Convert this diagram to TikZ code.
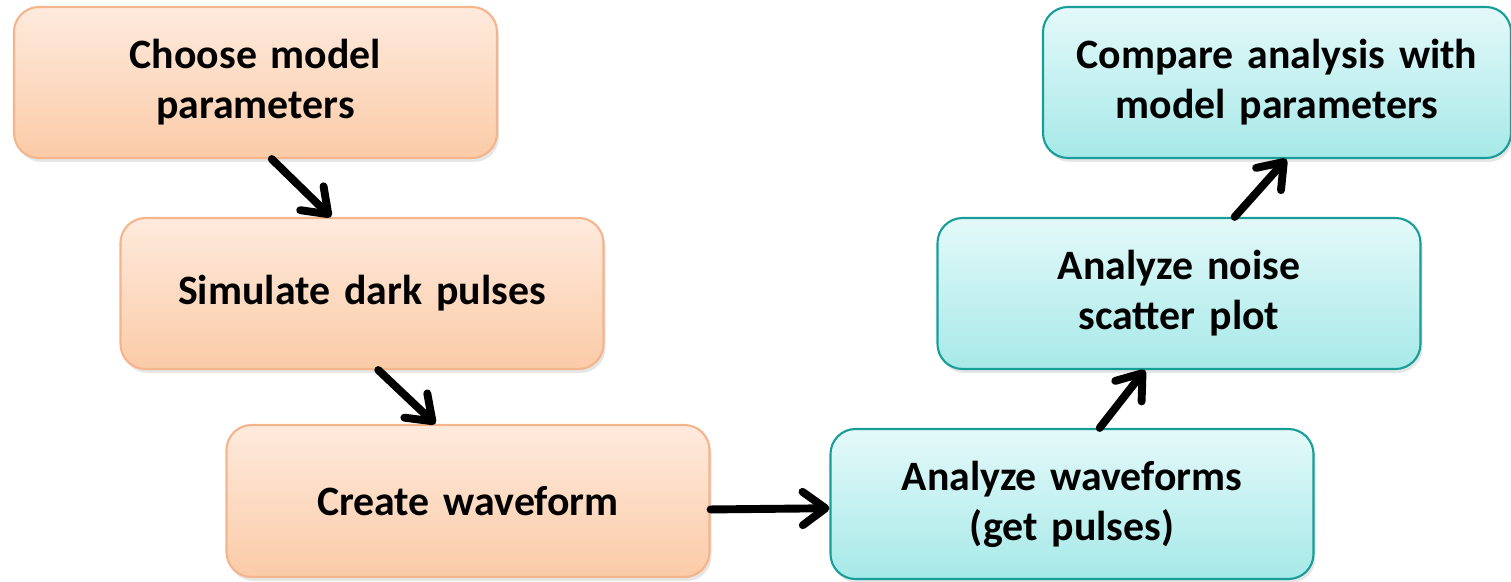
\documentclass[tikz,border=0pt]{standalone}
\usepackage{fontspec}
\setmainfont{Carlito}
\usetikzlibrary{arrows.meta,shadows}

\definecolor{peachtop}{HTML}{FEEADD}
\definecolor{peachbot}{HTML}{FBCBA7}
\definecolor{peachline}{HTML}{F4B48C}
\definecolor{aquatop}{HTML}{E4F9F9}
\definecolor{aquabot}{HTML}{A6E9E8}
\definecolor{aqualine}{HTML}{189E99}

\tikzset{
	stepbox/.style={rectangle, rounded corners=0.5cm, line width=1.2pt,
		minimum height=3.02cm, text width=9.2cm, inner xsep=0.23cm, align=center,
		font=\fontsize{23.8}{28.5}\selectfont\bfseries,
		drop shadow={opacity=0.2, shadow xshift=0.04cm, shadow yshift=-0.08cm}},
	simbox/.style={stepbox, draw=peachline, top color=peachtop, bottom color=peachbot},
	anabox/.style={stepbox, draw=aqualine, top color=aquatop, bottom color=aquabot},
	flow/.style={-{Straight Barb[length=13pt,width=19pt,line cap=round,line join=round]},
		line width=4.5pt, line cap=round}
}

\begin{document}
\begin{tikzpicture}
			\useasboundingbox (0,0) rectangle (30.22,-11.64);
			% simulation side
			\node[simbox] (choose) at (5.11,-1.65) {Choose model\\parameters};
			\node[simbox] (simulate) at (7.24,-5.87) {Simulate dark pulses};
			\node[simbox, minimum height=3.04cm] (create) at (9.36,-10.02) {Create waveform};
			% analysis side
			\node[anabox, minimum height=3cm] (waveforms) at (21.44,-10.08) {Analyze waveforms\\(get pulses)};
			\node[anabox] (scatter) at (23.58,-5.87) {Analyze noise\\scatter plot};
			\node[anabox, text width=8.9cm] (compare) at (25.54,-1.65) {Compare analysis with\\model parameters};
			% arrows
			\draw[flow] (choose.-78) -- (simulate.112);
			\draw[flow] (simulate.-78) -- (create.113);
			\draw[flow] (create.-2) -- (waveforms.181);
			\draw[flow] (waveforms.70) -- (scatter.246);
			\draw[flow] (scatter.54) -- (compare.-83);
		\end{tikzpicture}
\end{document}
